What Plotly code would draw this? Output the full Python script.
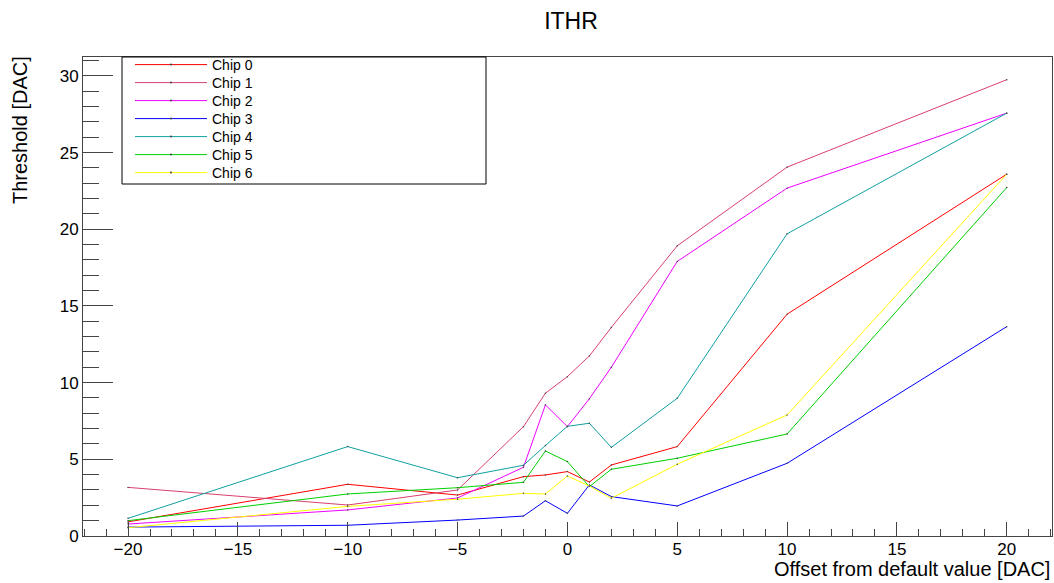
import plotly.graph_objects as go

# DAC offsets scanned around the default ITHR setting
offsets = [-20, -10, -5, -2, -1, 0, 1, 2, 5, 10, 20]

# Measured threshold per chip [DAC]
chip0 = [0.92, 3.37, 2.67, 3.87, 3.98, 4.20, 3.52, 4.63, 5.83, 14.46, 23.59]
chip1 = [3.17, 2.02, 3.00, 7.13, 9.31, 10.39, 11.74, 13.60, 18.92, 24.05, 29.75]
chip2 = [0.78, 1.70, 2.48, 4.48, 8.55, 7.13, 8.95, 11.00, 17.90, 22.68, 27.57]
chip3 = [0.58, 0.70, 1.04, 1.30, 2.30, 1.48, 3.33, 2.57, 1.96, 4.74, 13.65]
chip4 = [1.15, 5.83, 3.80, 4.61, 5.90, 7.15, 7.35, 5.78, 8.98, 19.70, 27.57]
chip5 = [1.00, 2.74, 3.15, 3.50, 5.54, 4.85, 3.22, 4.35, 5.07, 6.65, 22.72]
chip6 = [0.54, 1.93, 2.40, 2.78, 2.74, 3.91, 3.26, 2.46, 4.68, 7.89, 23.59]

series = [chip0, chip1, chip2, chip3, chip4, chip5, chip6]
names = ["Chip 0", "Chip 1", "Chip 2", "Chip 3", "Chip 4", "Chip 5", "Chip 6"]
colors = ["#ff0000", "#d8406e", "#ee00ff", "#0000ff", "#10a0a0", "#00d000", "#ffff00"]

W, H = 1054, 583
ML, MR, MT, MB = 83, 2, 57, 47
pw, ph = W - ML - MR, H - MT - MB

font = "Liberation Sans, Arial, sans-serif"

fig = go.Figure()
legends = {}
for i, (ys, name, col) in enumerate(zip(series, names, colors)):
    key = "legend" if i == 0 else f"legend{i + 1}"
    fig.add_trace(go.Scatter(
        x=offsets, y=ys, name=name, mode="lines+markers",
        line=dict(color=col, width=1),
        marker=dict(size=1.5, color="#444444"),
        legend=key,
    ))
    # one legend box per entry so rows sit 18 px apart
    row_y = 65 + 18 * i
    legends[key] = dict(
        x=(130 - ML) / pw, xanchor="left",
        y=(H - MB - row_y) / ph, yanchor="middle",
        bgcolor="rgba(0,0,0,0)", borderwidth=0,
        font=dict(size=14, family=font), itemwidth=72,
    )

fig.update_layout(
    width=W, height=H,
    margin=dict(l=ML, r=MR, t=MT, b=MB),
    paper_bgcolor="white", plot_bgcolor="white",
    font=dict(family=font, color="black", size=17),
    title=dict(text="ITHR", x=(571) / W, xanchor="center", y=1 - 21 / H,
               yanchor="middle", font=dict(size=23, family=font)),
    showlegend=True,
    xaxis=dict(
        range=[-22.05, 22.06], showgrid=False, zeroline=False,
        showline=True, linecolor="#444444", linewidth=1, mirror=True,
        ticks="inside", ticklen=14, tickcolor="#444444", tickwidth=1,
        tick0=0, dtick=5, tickfont=dict(size=17), ticklabelstandoff=-2,
        minor=dict(ticks="inside", ticklen=7, dtick=1, tickcolor="#444444"),
    ),
    yaxis=dict(
        range=[0, 31.23], showgrid=False, zeroline=False,
        showline=True, linecolor="#444444", linewidth=1, mirror=True,
        ticks="inside", ticklen=30, tickcolor="#444444", tickwidth=1,
        tick0=0, dtick=5, tickfont=dict(size=17),
        minor=dict(ticks="inside", ticklen=16, dtick=1, tickcolor="#444444"),
    ),
    shapes=[dict(
        type="rect", xref="paper", yref="paper",
        x0=(122 - ML) / pw, x1=(486 - ML) / pw,
        y0=(H - MB - 184) / ph, y1=1.0,
        line=dict(color="black", width=1), fillcolor="rgba(0,0,0,0)",
    )],
    annotations=[
        dict(text="Offset from default value [DAC]", xref="paper", yref="paper",
             x=1.0, xanchor="right", y=-(569 - (H - MB)) / ph, yanchor="middle",
             showarrow=False, font=dict(size=20, family=font)),
        dict(text="Threshold [DAC]", xref="paper", yref="paper",
             x=-(ML - 20) / pw, xanchor="center", y=1 - (130 - MT) / ph,
             yanchor="middle", textangle=-90,
             showarrow=False, font=dict(size=20, family=font)),
    ],
)
fig.update_layout(**legends)

fig.write_html("out.html")
